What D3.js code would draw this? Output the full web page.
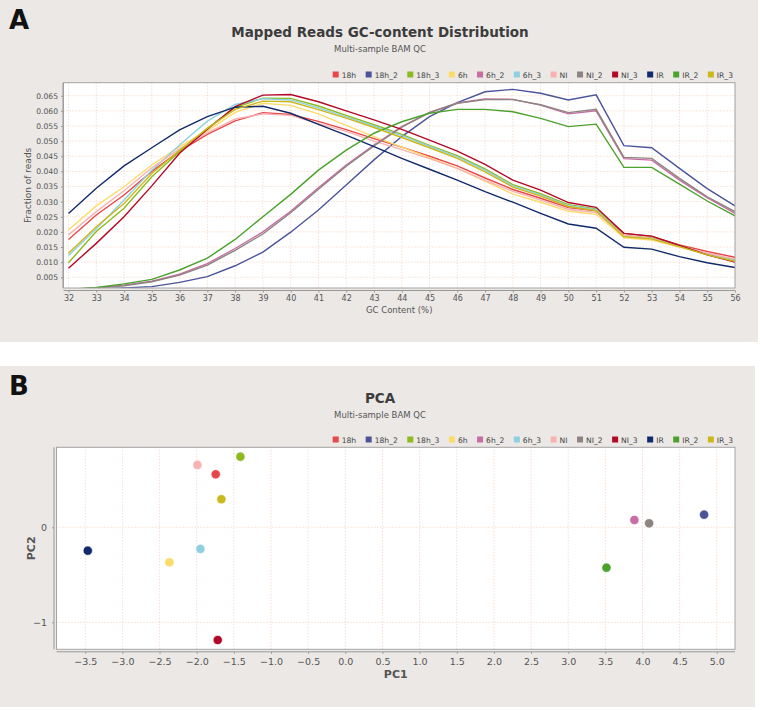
<!DOCTYPE html>
<html><head><meta charset="utf-8">
<script src="https://cdn.jsdelivr.net/npm/d3@7"></script>
<style>body{margin:0;background:#fff}svg{display:block}text{font-family:"DejaVu Sans",sans-serif}</style>
</head><body><svg id="c" width="760" height="710"></svg>
<script>
// ---------- data ----------
const samples = ["18h","18h_2","18h_3","6h","6h_2","6h_3","NI","NI_2","NI_3","IR","IR_2","IR_3"];
const colors = ["#e8474a","#4b549a","#8dbb1f","#fbdc6a","#c86ca4","#8fd0e0","#f7b2b2","#8c8480","#b1092a","#102a6b","#4aa22c","#cbb81c"];
const gcContent = [32,33,34,35,36,37,38,39,40,41,42,43,44,45,46,47,48,49,50,51,52,53,54,55,56];
const gc_18h   = [.0175,.0256,.0322,.0400,.0467,.0522,.0567,.0594,.0588,.0565,.0538,.0508,.0480,.0450,.0418,.0378,.0340,.0311,.0280,.0270,.0195,.0185,.0157,.0135,.0116];
const gc_18h_2 = [.0010,.0012,.0015,.0019,.0033,.0052,.0088,.0133,.0199,.0272,.0355,.0438,.0515,.0581,.0627,.0663,.0671,.0658,.0636,.0653,.0485,.0478,.0410,.0343,.0286];
const gc_18h_3 = [.0098,.0201,.0278,.0382,.0465,.0542,.0611,.0642,.0641,.0616,.0585,.0554,.0522,.0486,.0452,.0408,.0356,.0326,.0290,.0276,.0188,.0180,.0155,.0127,.0107];
const gc_6h    = [.0206,.0286,.0349,.0421,.0482,.0534,.0595,.0625,.0618,.0590,.0552,.0515,.0480,.0445,.0410,.0368,.0325,.0298,.0268,.0258,.0180,.0173,.0150,.0125,.0105];
const gc_6h_2  = [.0010,.0015,.0024,.0037,.0060,.0095,.0145,.0200,.0268,.0346,.0421,.0487,.0548,.0595,.0626,.0639,.0638,.0619,.0590,.0600,.0442,.0437,.0371,.0313,.0261];
const gc_6h_3  = [.0122,.0210,.0305,.0404,.0487,.0566,.0621,.0640,.0636,.0610,.0580,.0550,.0518,.0483,.0448,.0404,.0352,.0322,.0287,.0273,.0186,.0178,.0153,.0126,.0105];
const gc_NI    = [.0190,.0267,.0336,.0412,.0474,.0527,.0573,.0590,.0585,.0558,.0532,.0500,.0472,.0442,.0410,.0370,.0334,.0305,.0274,.0264,.0188,.0178,.0152,.0130,.0110];
const gc_NI_2  = [.0010,.0014,.0022,.0035,.0057,.0090,.0139,.0193,.0263,.0341,.0417,.0484,.0546,.0594,.0625,.0637,.0637,.0620,.0594,.0605,.0446,.0443,.0377,.0316,.0267];
const gc_NI_3  = [.0080,.0162,.0250,.0352,.0460,.0539,.0614,.0652,.0654,.0630,.0600,.0570,.0539,.0503,.0467,.0423,.0371,.0338,.0297,.0281,.0195,.0186,.0155,.0124,.0100];
const gc_IR    = [.0261,.0344,.0418,.0478,.0537,.0581,.0612,.0615,.0592,.0555,.0520,.0482,.0443,.0407,.0371,.0333,.0298,.0261,.0226,.0212,.0149,.0143,.0118,.0098,.0082];
const gc_IR_2  = [.0010,.0016,.0028,.0043,.0074,.0113,.0175,.0250,.0324,.0404,.0470,.0526,.0564,.0592,.0605,.0605,.0597,.0575,.0548,.0556,.0413,.0413,.0358,.0302,.0253];
const gc_IR_3  = [.0129,.0217,.0294,.0393,.0470,.0542,.0605,.0632,.0630,.0604,.0576,.0545,.0512,.0478,.0443,.0398,.0348,.0318,.0284,.0270,.0184,.0177,.0151,.0124,.0103];
const gcSeries = [gc_18h,gc_18h_2,gc_18h_3,gc_6h,gc_6h_2,gc_6h_3,gc_NI,gc_NI_2,gc_NI_3,gc_IR,gc_IR_2,gc_IR_3];
const gcYTicks = [.005,.010,.015,.020,.025,.030,.035,.040,.045,.050,.055,.060,.065];
const pc1 = [-1.744, 4.829, -1.412, -2.367, 3.891, -1.950, -1.990, 4.089, -1.717, -3.466, 3.515, -1.668];
const pc2 = [ 0.558, 0.133,  0.743, -0.368, 0.077, -0.228,  0.656, 0.042, -1.186, -0.246, -0.425, 0.295];
const pcXTicks = [-3.5,-3.0,-2.5,-2.0,-1.5,-1.0,-0.5,0.0,0.5,1.0,1.5,2.0,2.5,3.0,3.5,4.0,4.5,5.0];
const pcYTicks = [0,-1];

// ---------- drawing ----------
const svg = d3.select("#c");
const GRID = "#f0c4a8", BORDER = "#a4a4a4", TICKC = "#555";

function panel(y0, h, w, letter, title, sub) {
  svg.append("rect").attr("x",0).attr("y",y0).attr("width",w).attr("height",h).attr("fill","#ebe8e6");
  svg.append("text").attr("x",9).attr("y",y0+29).attr("font-size",26).attr("font-weight","bold").attr("fill","#111").text(letter);
  svg.append("text").attr("x",380).attr("y",y0+37).attr("text-anchor","middle").attr("font-size",13.5).attr("font-weight","bold").attr("fill","#3c3c3c").text(title);
  svg.append("text").attr("x",380).attr("y",y0+52).attr("text-anchor","middle").attr("font-size",8.5).attr("fill","#555").text(sub);
}
function legend(yc, right) {
  const g = svg.append("g");
  const items = samples.map((s,i)=>{
    const it = g.append("g");
    it.append("rect").attr("width",6).attr("height",6).attr("y",yc-3).attr("fill",colors[i]);
    const t = it.append("text").attr("x",9).attr("y",yc+3).attr("font-size",7.6).attr("fill","#444").text(s);
    return {it, w: 9 + t.node().getComputedTextLength()};
  });
  const gap = 9.5;
  const total = d3.sum(items, d=>d.w) + gap*(items.length-1);
  let x = right - total;
  items.forEach(d=>{ d.it.attr("transform",`translate(${x},0)`); x += d.w + gap; });
}
function grid(g, xs, ys, x, y, P) {
  g.selectAll(".vg").data(xs).join("line").attr("x1",d=>x(d)).attr("x2",d=>x(d)).attr("y1",P.t).attr("y2",P.b)
    .attr("stroke",GRID).attr("stroke-width",0.8).attr("stroke-dasharray","1,2");
  g.selectAll(".hg").data(ys).join("line").attr("y1",d=>y(d)).attr("y2",d=>y(d)).attr("x1",P.l).attr("x2",P.r)
    .attr("stroke",GRID).attr("stroke-width",0.8).attr("stroke-dasharray","1,2");
}

// ===== Panel A =====
panel(0, 342, 758, "A", "Mapped Reads GC-content Distribution", "Multi-sample BAM QC");
legend(74.5, 733);
const A = {l:63.5, r:735, t:82.7, b:288};
const xA = d3.scaleLinear().domain([31.82,56]).range([A.l,A.r]);
const yA = d3.scaleLinear().domain([0.00145,0.0693]).range([A.b,A.t]);
svg.append("rect").attr("x",A.l).attr("y",A.t).attr("width",A.r-A.l).attr("height",A.b-A.t).attr("fill","#fff");
grid(svg.append("g"), gcContent, gcYTicks, xA, yA, A);
svg.append("clipPath").attr("id","clipA").append("rect").attr("x",A.l).attr("y",A.t).attr("width",A.r-A.l).attr("height",A.b-A.t);
const line = d3.line().x((d,i)=>xA(gcContent[i])).y(d=>yA(d));
svg.append("g").attr("clip-path","url(#clipA)").selectAll("path").data(gcSeries).join("path")
  .attr("d",line).attr("fill","none").attr("stroke",(d,i)=>colors[i]).attr("stroke-width",1.4);
svg.append("rect").attr("x",A.l).attr("y",A.t).attr("width",A.r-A.l).attr("height",A.b-A.t).attr("fill","none").attr("stroke",BORDER);
const axXA = svg.append("g").attr("transform",`translate(0,${A.b+2.5})`).call(d3.axisBottom(xA).tickValues(gcContent).tickSize(2).tickPadding(3).tickFormat(d3.format("d")));
const axYA = svg.append("g").attr("transform",`translate(${A.l-0.5},0)`).call(d3.axisLeft(yA).tickValues(gcYTicks).tickSize(2).tickPadding(3).tickFormat(d3.format(".3f")));
[axXA,axYA].forEach(a=>{a.selectAll("path").attr("stroke","#999");a.selectAll("line").attr("stroke","#999");a.selectAll("text").attr("fill",TICKC).style("font-family","DejaVu Sans");});
axXA.selectAll("text").attr("font-size",8);
axYA.selectAll("text").attr("font-size",7.6);
axXA.select("path").attr("d",`M${A.l},0H${A.r}`);
axYA.select("path").attr("d",`M0,${A.t}V${A.b}`);
svg.append("text").attr("x",(A.l+A.r)/2).attr("y",313).attr("text-anchor","middle").attr("font-size",8.5).attr("fill","#555").text("GC Content (%)");
svg.append("text").attr("transform",`translate(31,${(A.t+A.b)/2}) rotate(-90)`).attr("text-anchor","middle").attr("font-size",9).attr("fill","#555").text("Fraction of reads");

// ===== Panel B =====
panel(366, 341, 755, "B", "PCA", "Multi-sample BAM QC");
legend(439.5, 733);
const B = {l:56.5, r:735, t:447.3, b:649.3};
const xB = d3.scaleLinear().domain([-3.887,5.245]).range([B.l,B.r]);
const yB = d3.scaleLinear().domain([-1.284,0.842]).range([B.b,B.t]);
svg.append("rect").attr("x",B.l).attr("y",B.t).attr("width",B.r-B.l).attr("height",B.b-B.t).attr("fill","#fff");
grid(svg.append("g"), pcXTicks, pcYTicks, xB, yB, B);
svg.append("rect").attr("x",B.l).attr("y",B.t).attr("width",B.r-B.l).attr("height",B.b-B.t).attr("fill","none").attr("stroke",BORDER);
svg.append("g").selectAll("circle").data(samples).join("circle")
  .attr("cx",(d,i)=>xB(pc1[i])).attr("cy",(d,i)=>yB(pc2[i])).attr("r",4.6)
  .attr("fill",(d,i)=>colors[i]).attr("stroke","#fff").attr("stroke-opacity",0.7).attr("stroke-width",0.8);
const axXB = svg.append("g").attr("transform",`translate(0,${B.b+2.5})`).call(d3.axisBottom(xB).tickValues(pcXTicks).tickSize(2).tickPadding(4).tickFormat(d3.format(".1f")));
const axYB = svg.append("g").attr("transform",`translate(${B.l-2.5},0)`).call(d3.axisLeft(yB).tickValues(pcYTicks).tickSize(2).tickPadding(5).tickFormat(d3.format("d")));
[axXB,axYB].forEach(a=>{a.selectAll("path").attr("stroke","#999");a.selectAll("line").attr("stroke","#999");a.selectAll("text").attr("fill",TICKC).attr("font-size",9.5).style("font-family","DejaVu Sans");});
axXB.select("path").attr("d",`M${B.l},0H${B.r}`);
axYB.select("path").attr("d",`M0,${B.t}V${B.b}`);
svg.append("text").attr("x",(B.l+B.r)/2).attr("y",678).attr("text-anchor","middle").attr("font-size",11).attr("font-weight","bold").attr("fill","#555").text("PC1");
svg.append("text").attr("transform",`translate(35,${(B.t+B.b)/2}) rotate(-90)`).attr("text-anchor","middle").attr("font-size",11).attr("font-weight","bold").attr("fill","#555").text("PC2");
</script></body></html>
